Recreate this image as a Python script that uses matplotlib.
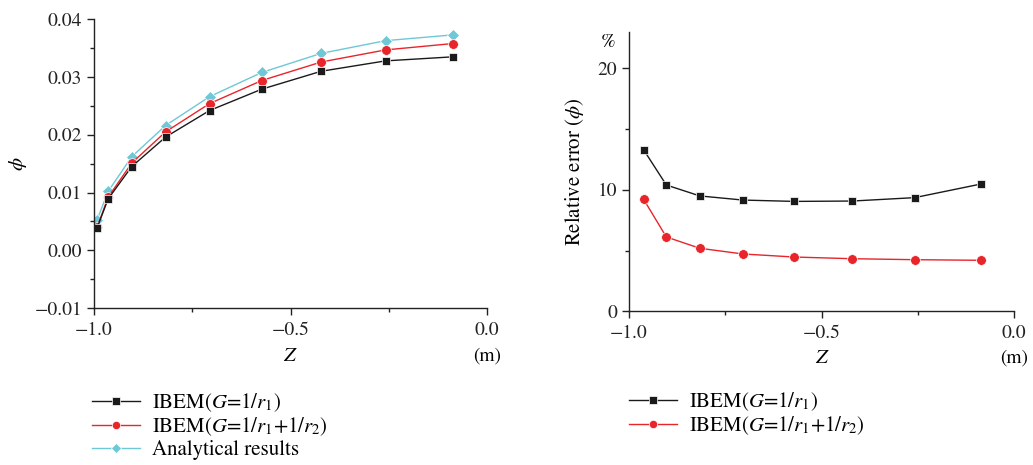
import matplotlib
matplotlib.use("Agg")
import matplotlib.pyplot as plt
from matplotlib.ticker import MultipleLocator, FuncFormatter

plt.rcParams['font.family'] = ['STIXGeneral', 'DejaVu Serif']
plt.rcParams['mathtext.fontset'] = 'stix'
plt.rcParams['font.size'] = 14

# Data (left panel)
z_left = [-0.992, -0.964, -0.904, -0.818, -0.706, -0.573, -0.422, -0.258, -0.087]
phi_ibem1 = [0.0039, 0.0089, 0.0145, 0.0196, 0.0242, 0.0279, 0.0310, 0.0328, 0.0335]
phi_ibem2 = [0.0040, 0.0092, 0.0151, 0.0205, 0.0254, 0.0294, 0.0326, 0.0347, 0.0358]
phi_analytic = [0.0053, 0.0102, 0.0162, 0.0216, 0.0266, 0.0308, 0.0341, 0.0363, 0.0373]

# Data (right panel)
z_right = [-0.962, -0.903, -0.816, -0.704, -0.571, -0.420, -0.258, -0.086]
err_ibem1 = [13.3, 10.4, 9.5, 9.16, 9.05, 9.08, 9.36, 10.48]
err_ibem2 = [9.22, 6.12, 5.19, 4.72, 4.47, 4.33, 4.25, 4.20]

lab1 = r'IBEM($G$=1/$r_1$)'
lab2 = r'IBEM($G$=1/$r_1$+1/$r_2$)'
lab3 = 'Analytical results'

c_black = '#1a1a1a'
c_red = '#e8252b'
c_cyan = '#6ec8d6'


def fmt(dec):
    return FuncFormatter(lambda v, p: f'{v:.{dec}f}'.replace('-', '\u2212'))


fig = plt.figure(figsize=(10.33, 4.65), dpi=100)
W, H = 1033, 465
axL = fig.add_axes([94 / W, 1 - 308 / H, (487 - 94) / W, (308 - 19.3) / H])
axR = fig.add_axes([629 / W, 1 - 311.3 / H, (1014 - 629) / W, (311.3 - 32) / H])

kw = dict(lw=1.0, markeredgewidth=0.5)
axL.plot(z_left, phi_analytic, color=c_cyan, marker='D', ms=6, mec='white', label=lab3, **kw)
axL.plot(z_left, phi_ibem2, color=c_red, marker='o', ms=7, mec='white', label=lab2, **kw)
axL.plot(z_left, phi_ibem1, color=c_black, marker='s', ms=6, mec='white', label=lab1, **kw)

axR.plot(z_right, err_ibem2, color=c_red, marker='o', ms=7, mec='white', label=lab2, **kw)
axR.plot(z_right, err_ibem1, color=c_black, marker='s', ms=6, mec='white', label=lab1, **kw)

for ax in (axL, axR):
    for s in ('top', 'right'):
        ax.spines[s].set_visible(False)
    for s in ('left', 'bottom'):
        ax.spines[s].set_linewidth(1.0)
        ax.spines[s].set_color('#222222')
    ax.set_xlim(-1.0, 0.0)
    ax.xaxis.set_major_locator(MultipleLocator(0.5))
    ax.xaxis.set_minor_locator(MultipleLocator(0.25))
    ax.xaxis.set_major_formatter(fmt(1))
    ax.tick_params(which='major', direction='out', length=5, width=1.0, colors='#222222', labelsize=14)
    ax.tick_params(which='minor', direction='out', length=3, width=1.0, colors='#222222')
    ax.tick_params(axis='x', pad=5)

axL.set_ylim(-0.01, 0.04)
axL.yaxis.set_major_locator(MultipleLocator(0.01))
axL.yaxis.set_minor_locator(MultipleLocator(0.005))
axL.yaxis.set_major_formatter(fmt(2))
axL.set_ylabel(r'$\phi$', fontsize=15, labelpad=4)

axR.set_ylim(0, 23)
axR.yaxis.set_major_locator(MultipleLocator(10))
axR.yaxis.set_minor_locator(MultipleLocator(5))
axR.yaxis.set_major_formatter(fmt(0))
axR.set_ylabel(r'Relative error ($\phi$)', fontsize=15, labelpad=8)

fig.text(290 / W, 1 - 356 / H, r'$Z$', ha='center', va='center', fontsize=15)
fig.text(822 / W, 1 - 358 / H, r'$Z$', ha='center', va='center', fontsize=15)
fig.text(487 / W, 1 - 356 / H, '(m)', ha='center', va='center', fontsize=14)
fig.text(1014 / W, 1 - 358 / H, '(m)', ha='center', va='center', fontsize=14)
fig.text(608 / W, 1 - 42 / H, '%', ha='center', va='center', fontsize=14)

legkw = dict(loc='upper left', frameon=False, fontsize=15, handlelength=2.3,
             handletextpad=0.55, labelspacing=0.08, borderaxespad=0, markerscale=0.85)
hL, lL = axL.get_legend_handles_labels()
order = [2, 1, 0]
fig.legend([hL[i] for i in order], [lL[i] for i in order],
           bbox_to_anchor=(84 / W, 1 - 383 / H), **legkw)
hR, lR = axR.get_legend_handles_labels()
fig.legend([hR[1], hR[0]], [lR[1], lR[0]],
           bbox_to_anchor=(621 / W, 1 - 382 / H), **legkw)

fig.savefig('out.png', dpi=100)
